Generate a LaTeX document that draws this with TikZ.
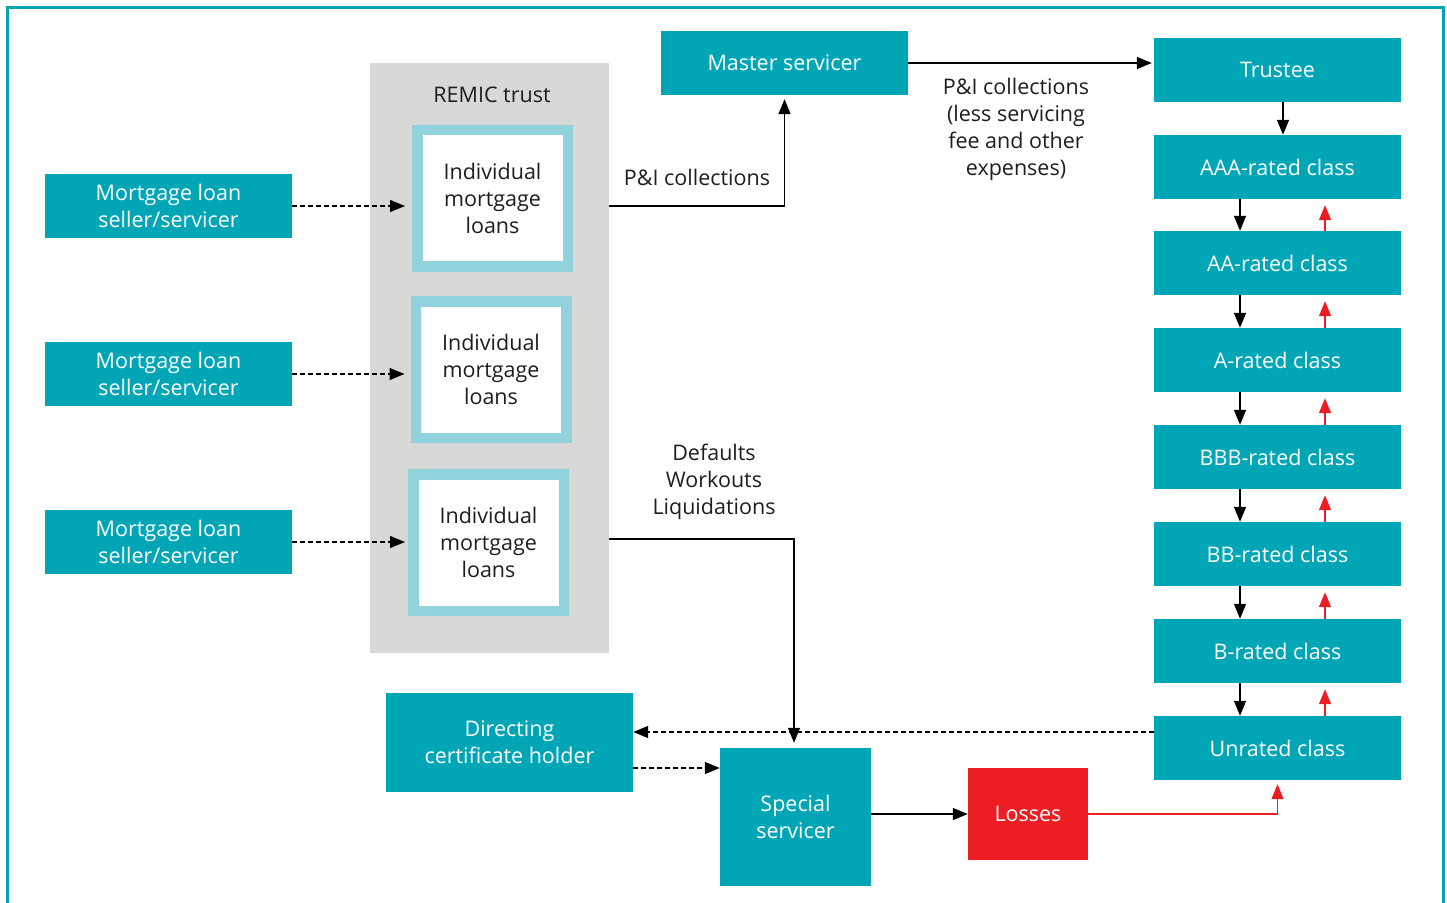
\documentclass[tikz,border=0pt]{standalone}
\usepackage{fontspec}
\setmainfont{Open Sans}
\usetikzlibrary{arrows.meta}
\definecolor{boxteal}{RGB}{0,166,182}
\definecolor{loanblue}{RGB}{146,210,221}
\definecolor{trustgray}{RGB}{216,216,215}
\definecolor{lossred}{RGB}{237,29,36}
\definecolor{ink}{RGB}{30,30,30}
\begin{document}
\begin{tikzpicture}[x=1pt,y=-1pt,
  every node/.style={font=\fontsize{21.5}{27}\selectfont, inner sep=0pt, align=center, text=ink},
  tealbox/.style={fill=boxteal, text=white, minimum width=247, minimum height=64},
  loanbox/.style={draw=loanblue, line width=10.5pt, fill=white, minimum width=150.5, minimum height=136.5},
  tip/.style={-{Triangle[length=15pt,width=12pt]}},
  arr/.style={tip, line width=1.4pt, draw=black},
  redarr/.style={tip, line width=1.4pt, draw=lossred},
  dasharr/.style={tip, line width=1.4pt, draw=black, dash pattern=on 5pt off 3pt}
]
\useasboundingbox (0,0) rectangle (1447,902);
% outer frame, open at the bottom
\draw[boxteal, line width=3pt] (7,910) -- (7,7) -- (1443,7) -- (1443,910);

% sellers
\node[tealbox] (seller1) at (168.5,206) {Mortgage loan\\seller/servicer};
\node[tealbox] (seller2) at (168.5,374) {Mortgage loan\\seller/servicer};
\node[tealbox] (seller3) at (168.5,542) {Mortgage loan\\seller/servicer};

% REMIC trust with its loan pools
\node[fill=trustgray, minimum width=239, minimum height=590] (trust) at (489.5,358) {};
\node (trustlabel) at (492,95) {REMIC trust};
\node[loanbox] (loan1) at (492.5,198) {Individual\\mortgage\\loans};
\node[loanbox] (loan2) at (491,369.5) {Individual\\mortgage\\loans};
\node[loanbox] (loan3) at (488.5,542.5) {Individual\\mortgage\\loans};

% servicers and trustee
\node[tealbox] (master) at (784.5,63) {Master servicer};
\node[tealbox] (trustee) at (1277.5,70) {Trustee};

% rated classes
\node[tealbox] (aaa) at (1277.5,167) {AAA-rated class};
\node[tealbox] (aa) at (1277.5,263) {AA-rated class};
\node[tealbox] (a) at (1277.5,360) {A-rated class};
\node[tealbox] (bbb) at (1277.5,457) {BBB-rated class};
\node[tealbox] (bb) at (1277.5,554) {BB-rated class};
\node[tealbox] (b) at (1277.5,651) {B-rated class};
\node[tealbox] (unrated) at (1277.5,748) {Unrated class};

% lower boxes
\node[tealbox, minimum height=99] (dch) at (509.5,742.5) {Directing\\certificate holder};
\node[tealbox, minimum width=151, minimum height=138] (special) at (795.5,817) {Special\\servicer};
\node[fill=lossred, text=white, minimum width=120, minimum height=92] (losses) at (1028,814) {Losses};

% labels
\node (pilabel) at (697,177) {P\&I collections};
\node (netlabel) at (1016,129) {P\&I collections\\(less servicing\\fee and other\\expenses)};
\node (deflabel) at (714,482) {Defaults\\Workouts\\Liquidations};

% sellers to loans
\draw[dasharr, shorten >=7pt] (seller1.east) -- (seller1.east -| loan1.west);
\draw[dasharr, shorten >=6pt] (seller2.east) -- (seller2.east -| loan2.west);
\draw[dasharr, shorten >=3pt] (seller3.east) -- (seller3.east -| loan3.west);

% collections flow
\draw[arr, shorten >=4pt] (trust.east |- seller1.east) -| (master.south);
\draw[arr, shorten >=2pt] (master.east) -- (master.east -| trustee.west);
\draw[arr] ([xshift=5.5pt]trustee.south) -- ([xshift=5.5pt]aaa.north);

% waterfall between classes: payments down, losses up
\foreach \u/\l in {aaa/aa, aa/a, a/bbb, bbb/bb, bb/b, b/unrated}{
  \draw[arr] ([xshift=-37.5pt]\u.south) -- ([xshift=-37.5pt]\l.north);
  \draw[redarr, shorten >=6pt] ([xshift=47.5pt]\l.north) -- ([xshift=47.5pt]\u.south);
}

% defaults to special servicer
\draw[arr, shorten >=5pt] (trust.east |- 0,539) -| ([xshift=-1.5pt]special.north);
\draw[dasharr] ([yshift=16pt]unrated.west) -- ([yshift=16pt]unrated.west -| dch.east);
\draw[dasharr] ([yshift=-25.5pt]dch.east) -- ([yshift=-25.5pt]dch.east -| special.west);
\draw[arr] (special.east |- losses.west) -- (losses.west);
\draw[redarr, shorten >=4pt] (losses.east) -| (unrated.south);
\end{tikzpicture}
\end{document}
